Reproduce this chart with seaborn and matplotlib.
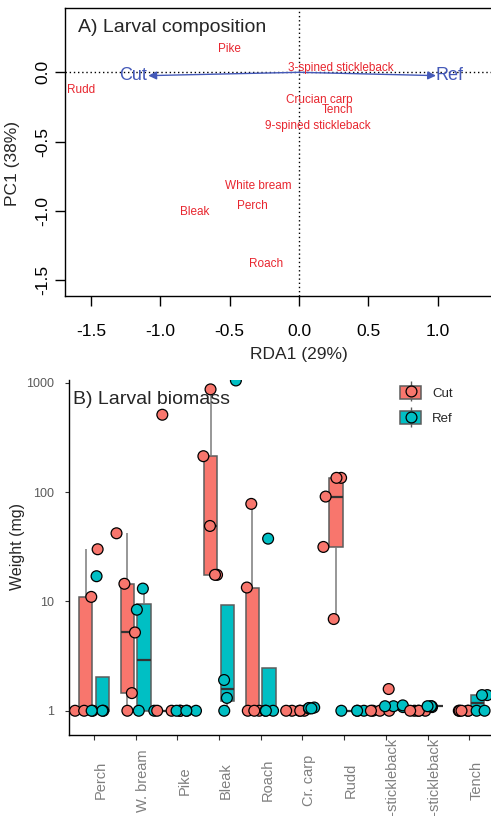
import numpy as np
import pandas as pd
import matplotlib
matplotlib.use("Agg")
import matplotlib.pyplot as plt
from matplotlib.lines import Line2D
from matplotlib.patches import Patch
from matplotlib.legend_handler import HandlerTuple
import seaborn as sns

sns.set_theme(style="ticks")
plt.rcParams["font.family"] = ["Liberation Sans", "DejaVu Sans"]
plt.rcParams["axes.unicode_minus"] = False

# ---- Panel A: RDA ordination of larval composition ----
rda_species = ["Pike", "3-spined stickleback", "Rudd", "Crucian carp", "Tench",
               "9-spined stickleback", "White bream", "Perch", "Bleak", "Roach"]
rda1_scores = [-0.50, 0.30, -1.57, 0.145, 0.276, 0.135, -0.293, -0.334, -0.752, -0.24]
pc1_scores = [0.17, 0.034, -0.13, -0.20, -0.27, -0.387, -0.82, -0.966, -1.01, -1.38]

treatments = ["Cut", "Ref"]
treat_rda1 = [-1.087, 0.988]
treat_pc1 = [-0.024, -0.024]

rda_xticks = [-1.5, -1.0, -0.5, 0.0, 0.5, 1.0]
rda_yticks = [0.0, -0.5, -1.0, -1.5]

# ---- Panel B: larval biomass per sample (mg) ----
species = ["Perch", "W. bream", "Pike", "Bleak", "Roach", "Cr. carp", "Rudd",
           "3-stickleback", "9-stickleback", "Tench"]
cut_weight = [
    [1, 1, 1, 11, 30],
    [1, 1.45, 5.2, 14.5, 42],
    [1, 1, 1, 1, 510],
    [17.5, 17.5, 49, 213, 870],
    [1, 1, 1, 13.4, 78],
    [1, 1, 1, 1, 1],
    [6.9, 31.5, 91, 135, 135],
    [1, 1, 1, 1, 1.58],
    [1, 1, 1, 1, 1],
    [1, 1, 1, 1, 1],
]
ref_weight = [
    [1, 1, 1, 17],
    [1, 1, 8.4, 13.1],
    [1, 1, 1, 1],
    [1, 1.31, 1.91, 1050],
    [1, 1, 1, 37.5],
    [1.05, 1.06, 1.07, 1.05],
    [1, 1, 1, 1],
    [1.08, 1.1, 1.12, 1.1],
    [1.08, 1.1, 1.1, 1.1],
    [1, 1, 1.39, 1.39],
]
biomass_ticks = [1, 10, 100, 1000]

palette = {"Cut": "#F8766D", "Ref": "#00BFC4"}
sp_red = "#e8262f"
env_blue = "#4459b8"

W, H = 491, 816
fig = plt.figure(figsize=(W / 100, H / 100), dpi=100)


def fx(px):
    return px / W


def fy(py):
    return 1 - py / H


# ================= Panel A =================
ax1 = fig.add_axes([fx(65), fy(296), fx(493.5) - fx(65), fy(8) - fy(296)])
ax1.set_xlim(-1.688, 1.403)
ax1.set_ylim(-1.614, 0.464)
ax1.axhline(0, color="black", lw=1, ls=(0, (1, 2)), zorder=1)
ax1.axvline(0, color="black", lw=1, ls=(0, (1, 2)), zorder=1)

for name, x, y in zip(rda_species, rda1_scores, pc1_scores):
    ax1.text(x, y, name, color=sp_red, fontsize=8.5, ha="center", va="center", zorder=3)

for name, x, y in zip(treatments, treat_rda1, treat_pc1):
    ax1.annotate("", xy=(x, y), xytext=(0, 0),
                 arrowprops=dict(arrowstyle="-|>", color=env_blue, lw=1.0,
                                 mutation_scale=12, shrinkA=0, shrinkB=0), zorder=2)
    ax1.text(x * 1.1, y, name, color=env_blue, fontsize=13, ha="center", va="center", zorder=3)

for s in ["left", "bottom", "top"]:
    ax1.spines[s].set_color("black")
    ax1.spines[s].set_linewidth(1.0)
ax1.spines["right"].set_visible(False)
ax1.set_xticks(rda_xticks)
ax1.set_xticklabels([f"{v:.1f}" for v in rda_xticks])
ax1.set_yticks(rda_yticks)
ax1.set_yticklabels([f"{v:.1f}" for v in rda_yticks], rotation=90, va="center")
ax1.tick_params(axis="both", direction="out", length=7, width=1, color="black",
                labelsize=12.5, labelcolor="black")
ax1.tick_params(axis="x", pad=13.5)
ax1.tick_params(axis="y", pad=3.7)
ax1.set_xlabel("")
ax1.set_ylabel("")

fig.text(fx(78), fy(28), "A) Larval composition", fontsize=14, ha="left", va="center")
fig.text(fx(299), fy(354), "RDA1 (29%)", fontsize=12.5, ha="center", va="center")
fig.text(fx(13), fy(164), "PC1 (38%)", fontsize=12.5, ha="center", va="center", rotation=90)

# ================= Panel B =================
rows = []
for sp, c, r in zip(species, cut_weight, ref_weight):
    rows += [(sp, "Cut", v) for v in c]
    rows += [(sp, "Ref", v) for v in r]
df = pd.DataFrame(rows, columns=["species", "treatment", "weight"])

ax2 = fig.add_axes([fx(69), fy(735), fx(494.3) - fx(69), fy(380) - fy(735)])
sns.boxplot(data=df, x="species", y="weight", hue="treatment", order=species,
            hue_order=treatments, palette=palette, log_scale=True, showfliers=False,
            width=0.8, gap=0.2, saturation=1, linecolor="#5c5c5c", linewidth=1.1,
            medianprops=dict(color="#333333", linewidth=1.6),
            whiskerprops=dict(color="#7a7a7a", linewidth=1.1),
            showcaps=False, legend=False, ax=ax2)
np.random.seed(7)
sns.stripplot(data=df, x="species", y="weight", hue="treatment", order=species,
              hue_order=treatments, palette=palette, dodge=True, jitter=0.6,
              size=7.8, linewidth=0.9, edgecolor="black", log_scale=True,
              legend=False, zorder=3, ax=ax2)

ax2.set_xlim(-0.6, 9.6)
ax2.set_ylim(0.6, 1060)
ax2.set_yticks(biomass_ticks)
ax2.set_yticklabels([str(v) for v in biomass_ticks])
ax2.yaxis.set_minor_locator(matplotlib.ticker.NullLocator())
ax2.set_xticks(range(len(species)))
ax2.set_xticklabels(species, rotation=90, ha="left", va="center")
ax2.tick_params(axis="x", length=3.6, width=0.8, color="#333333", labelsize=10.5,
                labelcolor="#7f7f7f", pad=29)
ax2.tick_params(axis="y", length=3, width=0.8, color="#333333", labelsize=9,
                labelcolor="#5a5a5a", pad=7.9)
for s in ["left", "bottom"]:
    ax2.spines[s].set_color("black")
    ax2.spines[s].set_linewidth(1.0)
ax2.spines["top"].set_visible(False)
ax2.spines["right"].set_visible(False)
ax2.set_xlabel("")
ax2.set_ylabel("")

fig.text(fx(72.7), fy(399), "B) Larval biomass", fontsize=14, ha="left", va="center")
fig.text(fx(18), fy(547), "Weight (mg)", fontsize=11.5, ha="center", va="center", rotation=90)

handles = []
for t in treatments:
    whisk = Line2D([], [], color="#5c5c5c", marker="|", markersize=15,
                   markeredgewidth=1, linestyle="none")
    box = Patch(facecolor=palette[t], edgecolor="#5c5c5c", linewidth=1.1)
    dot = Line2D([], [], color=palette[t], marker="o", markersize=7.8,
                 markeredgecolor="black", markeredgewidth=0.9, linestyle="none")
    handles.append((whisk, box, dot))
fig.legend(handles, treatments, handler_map={tuple: HandlerTuple(ndivide=1, pad=0)},
           loc="upper left", bbox_to_anchor=(fx(400), fy(386)), frameon=False,
           fontsize=9.5, handlelength=1.6, handleheight=1.14, handletextpad=0.85,
           labelspacing=0.85, borderpad=0, borderaxespad=0)

fig.savefig("out.png", dpi=100)
